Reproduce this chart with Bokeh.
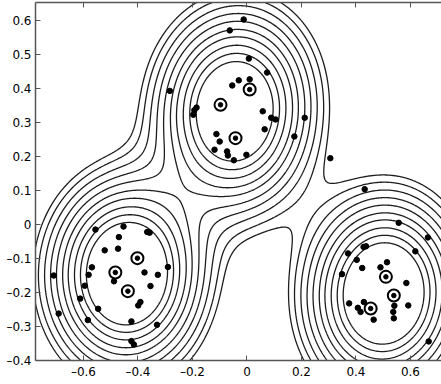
import numpy as np
from bokeh.plotting import figure
from bokeh.models import LinearAxis, FixedTicker, CustomJSTickFormatter, Range1d
from bokeh.embed import file_html
from bokeh.resources import INLINE

# ---- data points ----
pts_x = [
    # upper cluster
    -0.012, -0.063, 0.007, 0.074, -0.054, -0.030, 0.010, -0.283, -0.185, -0.193,
    -0.197, 0.058, 0.089, 0.105, 0.212, 0.065, 0.174, -0.112, -0.100, -0.119,
    -0.073, -0.070, -0.048, -0.002, 0.306, 0.432,
    # left cluster
    -0.556, -0.453, -0.366, -0.357, -0.470, -0.522, -0.473, -0.569, -0.709, -0.581,
    -0.488, -0.376, -0.327, -0.290, -0.595, -0.354, -0.612, -0.391, -0.399, -0.546,
    -0.691, -0.584, -0.424, -0.330, -0.424, -0.415,
    # right cluster
    0.557, 0.664, 0.428, 0.437, 0.618, 0.371, 0.403, 0.514, 0.423, 0.490,
    0.349, 0.585, 0.592, 0.541, 0.537, 0.375, 0.429, 0.407, 0.417, 0.465,
    0.539, 0.667,
]
pts_y = [
    0.603, 0.571, 0.488, 0.447, 0.409, 0.424, 0.427, 0.393, 0.344, 0.336,
    0.323, 0.333, 0.314, 0.309, 0.314, 0.280, 0.259, 0.266, 0.244, 0.220,
    0.215, 0.203, 0.189, 0.205, 0.195, 0.104,
    -0.015, -0.006, -0.022, -0.024, -0.037, -0.076, -0.071, -0.126, -0.150, -0.148,
    -0.167, -0.141, -0.148, -0.125, -0.180, -0.181, -0.218, -0.228, -0.238, -0.248,
    -0.262, -0.281, -0.285, -0.295, -0.343, -0.353,
    0.005, -0.038, -0.066, -0.064, -0.079, -0.085, -0.104, -0.111, -0.128, -0.126,
    -0.146, -0.172, -0.238, -0.239, -0.257, -0.232, -0.228, -0.245, -0.257, -0.280,
    -0.276, -0.344,
]

# ---- retained (circled) points ----
ctr_x = [0.010, -0.097, -0.042, -0.402, -0.483, -0.437, 0.510, 0.539, 0.454]
ctr_y = [0.397, 0.352, 0.254, -0.099, -0.141, -0.196, -0.154, -0.209, -0.247]

kernel_width = 0.159
contour_levels = [0.30, 0.39, 0.51, 0.65, 0.81, 1.00, 1.19, 1.42, 1.65, 1.88]

x_ticks = [-0.6, -0.4, -0.2, 0.0, 0.2, 0.4, 0.6]
y_ticks = [-0.4, -0.3, -0.2, -0.1, 0.0, 0.1, 0.2, 0.3, 0.4, 0.5, 0.6]

# ---- density surface from the retained points ----
gx = np.linspace(-0.82, 0.78, 420)
gy = np.linspace(-0.45, 0.72, 320)
GX, GY = np.meshgrid(gx, gy)
Z = np.zeros_like(GX)
for cx, cy in zip(ctr_x, ctr_y):
    Z += np.exp(-((GX - cx) ** 2 + (GY - cy) ** 2) / (2 * kernel_width ** 2))

p = figure(width=441, height=384,
           x_range=Range1d(-0.776, 0.714), y_range=Range1d(-0.4, 0.653),
           output_backend="svg", toolbar_location=None,
           min_border_left=35, min_border_right=0, min_border_top=2,
           min_border_bottom=24)
p.outline_line_color = None
p.xgrid.visible = False
p.ygrid.visible = False
p.background_fill_color = "white"
p.border_fill_color = "white"

p.contour(gx, gy, Z, levels=contour_levels, line_color="#1e1e1e", line_width=1.3)

p.scatter(pts_x, pts_y, size=5.5, color="black")
p.scatter(ctr_x, ctr_y, size=12, fill_color=None, line_color="black", line_width=2)
p.scatter(ctr_x, ctr_y, size=4.5, color="black")

fmt = CustomJSTickFormatter(code="""
if (Math.abs(tick) < 1e-9) { return '0'; }
return tick.toFixed(1).replace('-', '\u2013');
""")

for ax in (p.xaxis[0], p.yaxis[0]):
    ax.formatter = fmt
    ax.major_tick_in = 5
    ax.major_tick_out = 0
    ax.minor_tick_line_color = None
    ax.axis_line_color = "#555555"
    ax.axis_line_width = 1.5
    ax.major_tick_line_color = "#555555"
    ax.major_label_text_font = "DejaVu Sans"
    ax.major_label_text_font_size = "12px"
    ax.major_label_text_color = "black"
p.xaxis[0].ticker = FixedTicker(ticks=x_ticks)
p.yaxis[0].ticker = FixedTicker(ticks=y_ticks)
p.xaxis[0].major_label_standoff = 4
p.yaxis[0].major_label_standoff = 4

top = LinearAxis(ticker=FixedTicker(ticks=x_ticks),
                 formatter=CustomJSTickFormatter(code="return '';"),
                 major_tick_in=5, major_tick_out=0, minor_tick_line_color=None,
                 axis_line_color="#555555", axis_line_width=1.5,
                 major_tick_line_color="#555555", major_label_standoff=0,
                 major_label_text_font_size="1px")
p.add_layout(top, "above")

open("out.html", "w").write(file_html(p, INLINE))
